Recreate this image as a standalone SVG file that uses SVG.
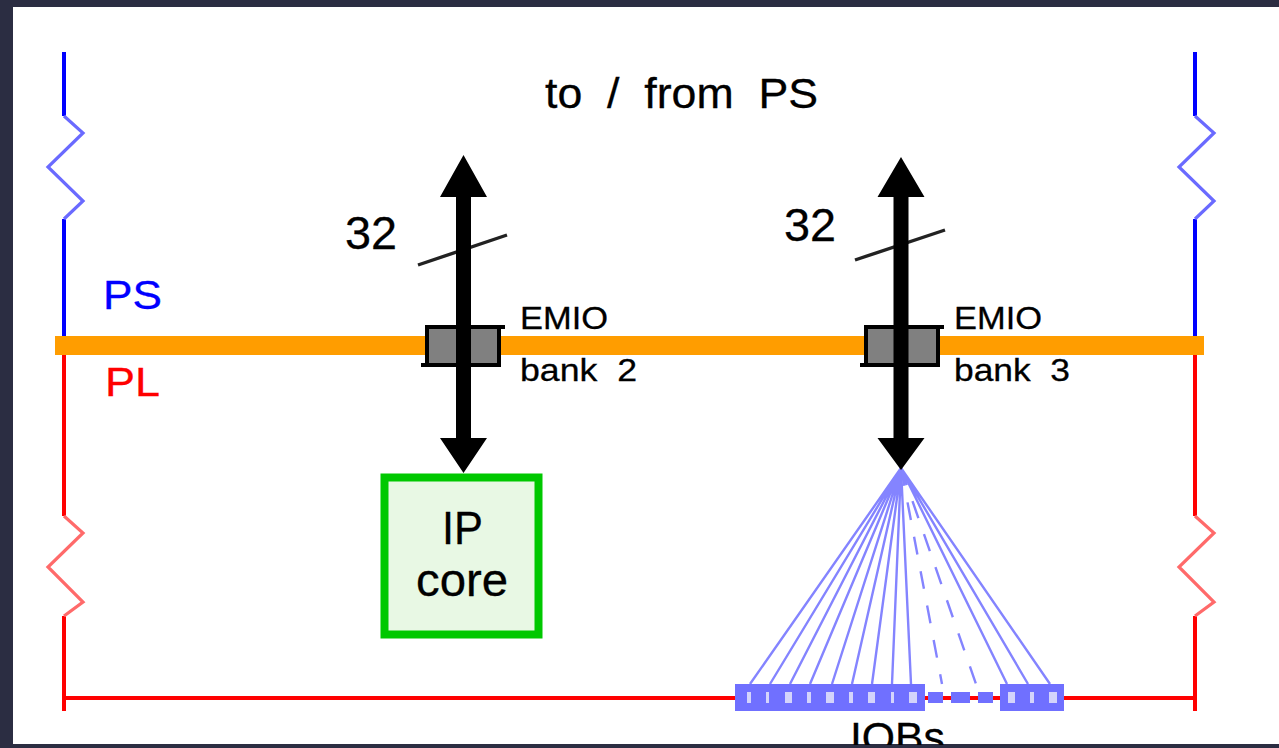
<svg xmlns="http://www.w3.org/2000/svg" width="1279" height="748" viewBox="0 0 1279 748">
<style>
text{font-family:"Liberation Sans",Arial,sans-serif;fill:#000;stroke:#000;stroke-width:.3}
.big{font-size:46px}
.small{font-size:32px}
.fan{stroke:#8484ff;stroke-width:2.4;fill:none}
.dash{stroke-dasharray:18 17}
.blue{stroke:#0000ff;stroke-width:4;fill:none}
.red{stroke:#ff0000;stroke-width:4;fill:none}
.zb{stroke:#6a6aff;stroke-width:3.2;fill:none}
.zr{stroke:#ff6a6a;stroke-width:3.2;fill:none}
.iob{fill:#7070ff}
.win{fill:#d4d4fb}
.port{fill:#808080;stroke:#000;stroke-width:4}
</style>
<rect width="1279" height="748" fill="#2b2d42"/>
<rect x="13" y="7" width="1266" height="737" fill="#fff"/>
<g id="connectors">
<path class="blue" d="M64 52V116M64 219V336M1195 52V116M1195 219V336"/>
<path class="zb" d="M64 116L83 133L48 167L83 201L64 219M1195 116L1214 133L1179 167L1214 201L1195 219"/>
<path class="red" d="M64 355V516M64 616V711M1195 355V516M1195 616V711M64 698H1195"/>
<path class="zr" d="M64 516L83 533L48 567L83 602L64 616M1195 516L1214 533L1179 567L1214 602L1195 616"/>
<rect x="55" y="336" width="1149" height="19" fill="#ff9d00"/>
<g id="fan">
<path class="fan" d="M901 468L750 684M901 468L770 684M901 468L790 684M901 468L810 684M901 468L832 684M901 468L852 684M901 468L872 684M901 468L892 684M901 468L911 684M901 468L1007 684M901 468L1028 684M901 468L1050 684"/>
<path class="fan dash" d="M901 468L942 684M901 468L976 684"/>
</g>
<path d="M418 265L507 235M855 260L945 230" stroke="#222" stroke-width="3.400" fill="none"/>
</g>
<g id="emio-bank-2">
<rect class="port" x="427" y="327" width="72" height="38"/>
<path d="M499 327H505M421 365H427" stroke="#000" stroke-width="4"/>
<text class="small" x="520" y="329" textLength="88" lengthAdjust="spacingAndGlyphs">EMIO</text>
<text class="small" x="520" y="381" xml:space="preserve" textLength="117" lengthAdjust="spacingAndGlyphs">bank  2</text>
</g>
<g id="emio-bank-3">
<rect class="port" x="866" y="327" width="72" height="38"/>
<path d="M938 327H944M860 365H866" stroke="#000" stroke-width="4"/>
<text class="small" x="954" y="329" textLength="88" lengthAdjust="spacingAndGlyphs">EMIO</text>
<text class="small" x="954" y="381" xml:space="preserve" textLength="116" lengthAdjust="spacingAndGlyphs">bank  3</text>
</g>
<g id="arrow-left">
<path d="M463.500 155L487 197H471V438H487L463.500 473L440 438H456V197H440Z" fill="#000"/>
<text class="big" x="345" y="249" textLength="52" lengthAdjust="spacingAndGlyphs">32</text>
</g>
<g id="arrow-right">
<path d="M901 157L924.500 197H908.500V438H924.500L901 470L877.500 438H893.500V197H877.500Z" fill="#000"/>
<text class="big" x="784" y="241" textLength="52" lengthAdjust="spacingAndGlyphs">32</text>
</g>
<g id="ip-core">
<rect x="384.500" y="477.500" width="154" height="157" fill="#e8f8e4" stroke="#00c800" stroke-width="8"/>
<text class="big" x="442" y="544" textLength="41" lengthAdjust="spacingAndGlyphs">IP</text>
<text class="big" x="416" y="596" textLength="92" lengthAdjust="spacingAndGlyphs">core</text>
</g>
<g id="iobs">
<rect class="iob" x="735" y="684" width="190" height="27"/>
<rect class="iob" x="928" y="692" width="15" height="11"/>
<rect class="iob" x="951" y="692" width="19" height="11"/>
<rect class="iob" x="978" y="692" width="15" height="11"/>
<rect class="iob" x="1000" y="684" width="64" height="27"/>
<path class="win" d="M747 692h4v11h-4zM766 692h3v11h-3zM785 692h7v11h-7zM807 692h4v11h-4zM826 692h8v11h-8zM849 692h4v11h-4zM868 692h7v11h-7zM891 692h3v11h-3zM909 692h8v11h-8zM1008 692h7v11h-7zM1030 692h4v11h-4zM1049 692h8v11h-8z"/>
<text x="850" y="752" font-size="42" textLength="95" lengthAdjust="spacingAndGlyphs">IOBs</text>
</g>
<g id="labels">
<text x="545" y="108" font-size="43" xml:space="preserve" textLength="273" lengthAdjust="spacingAndGlyphs">to  /  from  PS</text>
<text x="103" y="309" font-size="41" textLength="59" lengthAdjust="spacingAndGlyphs" style="fill:#0000ff;stroke:#0000ff">PS</text>
<text x="105" y="396" font-size="41" textLength="55" lengthAdjust="spacingAndGlyphs" style="fill:#ff0000;stroke:#ff0000">PL</text>
</g>
<rect y="745" width="1279" height="3" fill="#2b2d42"/>
</svg>
